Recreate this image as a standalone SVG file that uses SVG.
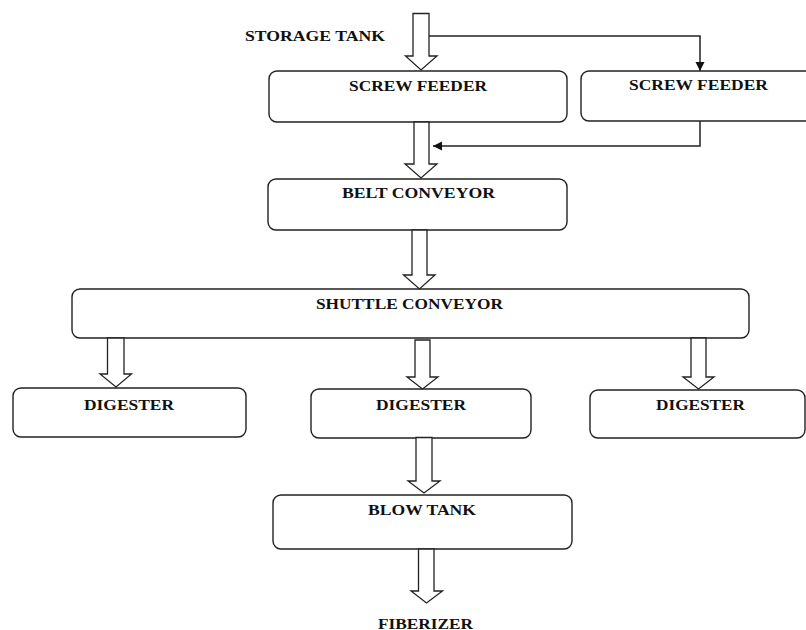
<svg xmlns="http://www.w3.org/2000/svg" width="806" height="630" viewBox="0 0 806 630">
<style>
.box{fill:#fff;stroke:#222;stroke-width:1.4}
.blk{fill:#fff;stroke:#222;stroke-width:1.3;stroke-linejoin:miter}
.lbl{font-family:"Liberation Serif","Times New Roman",serif;font-weight:bold;font-size:13.6px;fill:#111}
.ln{fill:none;stroke:#222;stroke-width:1.5}
</style>
<defs>
<marker id="ah" markerWidth="10" markerHeight="10" refX="9" refY="5" orient="auto" markerUnits="userSpaceOnUse">
<path d="M0,0.5 L9,5 L0,9.5 Z" fill="#111"/>
</marker>
</defs>
<rect width="806" height="630" fill="#fff"/>

<g id="storage-tank">
<text class="lbl" x="245" y="41" textLength="140" lengthAdjust="spacingAndGlyphs">STORAGE TANK</text>
</g>

<g id="screw-feeder-1">
<rect class="box" x="269" y="71" width="298" height="51" rx="8"/>
<text class="lbl" x="349" y="91" textLength="138" lengthAdjust="spacingAndGlyphs">SCREW FEEDER</text>
</g>

<g id="screw-feeder-2">
<rect class="box" x="581" y="71" width="240" height="50" rx="8"/>
<text class="lbl" x="629" y="89.5" textLength="139" lengthAdjust="spacingAndGlyphs">SCREW FEEDER</text>
</g>

<g id="belt-conveyor">
<rect class="box" x="268" y="179" width="299" height="51" rx="8"/>
<text class="lbl" x="342" y="198" textLength="153" lengthAdjust="spacingAndGlyphs">BELT CONVEYOR</text>
</g>

<g id="shuttle-conveyor">
<rect class="box" x="72" y="289" width="677" height="49" rx="8"/>
<text class="lbl" x="316" y="308.5" textLength="187" lengthAdjust="spacingAndGlyphs">SHUTTLE CONVEYOR</text>
</g>

<g id="digester-1">
<rect class="box" x="13" y="388" width="233" height="49" rx="8"/>
<text class="lbl" x="84" y="409.5" textLength="90" lengthAdjust="spacingAndGlyphs">DIGESTER</text>
</g>

<g id="digester-2">
<rect class="box" x="311" y="389" width="220" height="49" rx="8"/>
<text class="lbl" x="376" y="409.5" textLength="90" lengthAdjust="spacingAndGlyphs">DIGESTER</text>
</g>

<g id="digester-3">
<rect class="box" x="590" y="390" width="215" height="48" rx="8"/>
<text class="lbl" x="656" y="409.5" textLength="89" lengthAdjust="spacingAndGlyphs">DIGESTER</text>
</g>

<g id="blow-tank">
<rect class="box" x="273" y="495" width="299" height="54" rx="8"/>
<text class="lbl" x="368" y="515" textLength="108" lengthAdjust="spacingAndGlyphs">BLOW TANK</text>
</g>

<g id="fiberizer">
<text class="lbl" x="378" y="628.5" textLength="95" lengthAdjust="spacingAndGlyphs">FIBERIZER</text>
</g>

<g id="connectors">
<polygon class="blk" points="413,13.5 429,13.5 429,56 437,56 421,70 405.5,56 413,56"/>
<polygon class="blk" points="414,122 429,122 429,164 437,164 421,178 405,164 414,164"/>
<polygon class="blk" points="412,230 427,230 427,275 435,275 419.5,289 403.5,275 412,275"/>
<polygon class="blk" points="107.5,338 124,338 124,374 131.5,374 116,387 100,374 107.5,374"/>
<polygon class="blk" points="415,340 430,340 430,377 438,377 422.5,389 407,377 415,377"/>
<polygon class="blk" points="691,338 706,338 706,377 714,377 698.5,389 683,377 691,377"/>
<polygon class="blk" points="416,437.5 432,437.5 432,481 440,481 424,493 408,481 416,481"/>
<polygon class="blk" points="418.5,549 434,549 434,591 442.5,591 426.5,603 411,591 418.5,591"/>
<polyline class="ln" points="429,36 700,36 700,71" marker-end="url(#ah)"/>
<polyline class="ln" points="700,121 700,146 433,146" marker-end="url(#ah)"/>
</g>
</svg>
